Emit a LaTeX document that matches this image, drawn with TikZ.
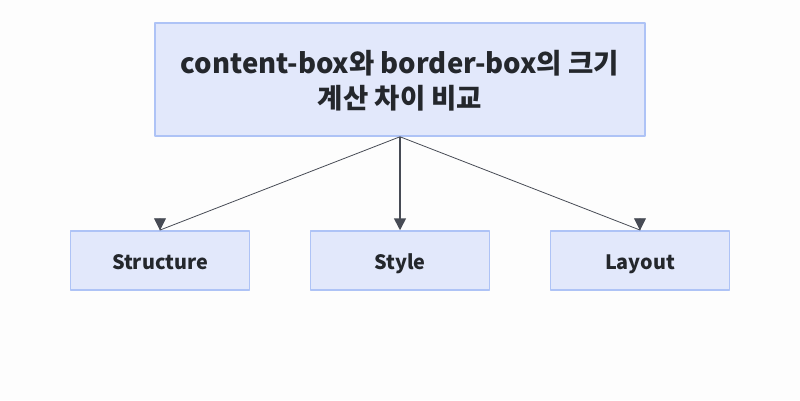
\documentclass[tikz,border=0pt]{standalone}
\usepackage{fontspec}
\setmainfont{Noto Sans CJK KR}
\usetikzlibrary{arrows.meta,calc}
\definecolor{boxfill}{HTML}{E2E8FB}
\definecolor{boxline}{HTML}{AEC3F6}
\definecolor{linkgray}{HTML}{474B55}
\definecolor{txtgray}{HTML}{24272C}
\definecolor{bggray}{HTML}{FDFDFD}
\tikzset{
  box/.style={draw=boxline, fill=boxfill, line width=1.5pt, text=txtgray, font=\bfseries, align=center, inner sep=0pt},
  leaf/.style={box, minimum width=179pt, minimum height=59pt, text height=17pt, text depth=0pt, font=\fontsize{19.8}{22}\bfseries},
  link/.style={draw=linkgray, -{Triangle[length=12pt,width=12pt]}}
}
\begin{document}
\begin{tikzpicture}[x=1pt, y=-1pt, line join=round]
		\fill[bggray] (0,0) rectangle (800,400);
		\useasboundingbox (0,0) rectangle (800,400);
		\node[box, minimum width=490pt, minimum height=113pt, text depth=-10pt, font=\fontsize{27.5}{34.5}\bfseries] (title) at (400,79.5) {content-box와 border-box의 크기\\계산 차이 비교};
		\node[leaf] (structure) at (160,260.5) {Structure};
		\node[leaf] (style) at (400,260.5) {Style};
		\node[leaf] (layout) at (640,260.5) {Layout};
		\draw[link, line width=0.8pt] (title.south) -- ($(structure.north)+(0,-0.2)$) -- (structure.north);
		\draw[link, line width=1.6pt] (title.south) -- (style.north);
		\draw[link, line width=0.8pt] (title.south) -- ($(layout.north)+(0,-0.2)$) -- (layout.north);
\end{tikzpicture}
\end{document}
